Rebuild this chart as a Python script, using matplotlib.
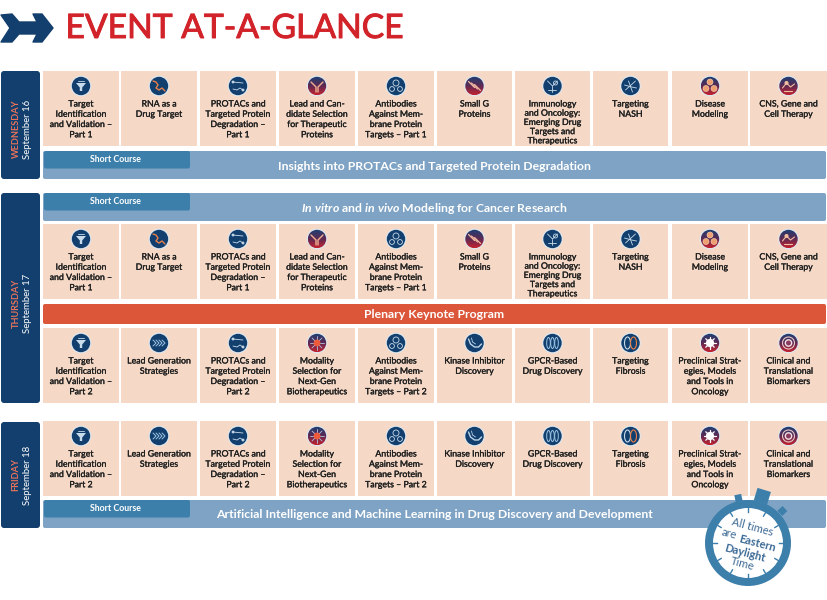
import matplotlib
matplotlib.use("Agg")
import matplotlib.pyplot as plt
import matplotlib.patheffects as pe
import numpy as np
from matplotlib.colors import LinearSegmentedColormap
from matplotlib.patches import Circle, Ellipse, FancyBboxPatch, Polygon, Rectangle

plt.rcParams["font.family"] = ["Lato", "DejaVu Sans"]
plt.rcParams["mathtext.fontset"] = "custom"
plt.rcParams["mathtext.it"] = "Lato:italic:bold"
plt.rcParams["mathtext.rm"] = "Lato:bold"

NAVY = "#123f6d"
CELL = "#f5d9c6"
BAND = "#7fa3c4"
TAB = "#3d7fab"
PLENARY = "#dc573a"
RED = "#d2232a"
SALMON = "#e8735a"
INK = "#1f1f1f"
GLYPH = "#c9dcec"
ORANGE = "#e8804a"

col_left = [43, 121, 200, 279, 358, 437, 515, 593, 672, 750]
col_right = [119, 197, 276, 355, 434, 512, 590, 668, 748, 827]

day_names = ["WEDNESDAY", "THURSDAY", "FRIDAY"]
day_dates = ["September 16", "September 17", "September 18"]
day_spans = [(71, 179), (193, 403), (422, 528)]
day_text_mid = [129, 303, 475]

row_tops = [71, 224, 328, 421]
row_height = 75

row_a = ["Target\nIdentification\nand Validation –\nPart 1", "RNA as a\nDrug Target",
         "PROTACs and\nTargeted Protein\nDegradation –\nPart 1",
         "Lead and Can-\ndidate Selection\nfor Therapeutic\nProteins",
         "Antibodies\nAgainst Mem-\nbrane Protein\nTargets – Part 1",
         "Small G\nProteins",
         "Immunology\nand Oncology:\nEmerging Drug\nTargets and\nTherapeutics",
         "Targeting\nNASH", "Disease\nModeling", "CNS, Gene and\nCell Therapy"]
row_b = ["Target\nIdentification\nand Validation –\nPart 2", "Lead Generation\nStrategies",
         "PROTACs and\nTargeted Protein\nDegradation –\nPart 2",
         "Modality\nSelection for\nNext-Gen\nBiotherapeutics",
         "Antibodies\nAgainst Mem-\nbrane Protein\nTargets – Part 2",
         "Kinase Inhibitor\nDiscovery", "GPCR-Based\nDrug Discovery", "Targeting\nFibrosis",
         "Preclinical Strat-\negies, Models\nand Tools in\nOncology",
         "Clinical and\nTranslational\nBiomarkers"]
rows = [row_a, row_a, row_b, row_b]

icons_a = ["funnel", "wave", "links", "antibody", "cells", "gprotein", "immuno", "nash", "disease", "cns"]
icons_b = ["funnel", "lead", "links", "modality", "cells", "kinase", "gpcr", "fibrosis", "gear", "rings"]
row_icons = [icons_a, icons_a, icons_b, icons_b]
red_icons = {"antibody", "gprotein", "disease", "cns", "modality", "gear", "rings"}

band_labels = ["Insights into PROTACs and Targeted Protein Degradation",
               r"$\mathit{In\ vitro}$ and $\mathit{in\ vivo}$ Modeling for Cancer Research",
               "Artificial Intelligence and Machine Learning in Drug Discovery and Development"]
band_spans = [(151, 179), (193, 221), (500, 528)]
tab_label = "Short Course"

fig = plt.figure(figsize=(8.28, 6.0), dpi=100)
ax = fig.add_axes([0, 0, 1, 1])
ax.axis("off")
red_ramp = LinearSegmentedColormap.from_list("ramp", ["#1d3f72", "#5a2a55", "#c2232f"])


def rounded(x0, y0, x1, y1, color, r=2.5, z=2):
    ax.add_patch(FancyBboxPatch((x0 + r, y0 + r), x1 - x0 - 2 * r, y1 - y0 - 2 * r,
                                boxstyle=f"round,pad={r},rounding_size={r}",
                                fc=color, ec="none", zorder=z))


def stroke(cx, cy, pts, color=GLYPH, lw=0.6):
    ax.plot([cx + p[0] for p in pts], [cy + p[1] for p in pts], color=color, lw=lw, zorder=6,
            solid_capstyle="round")


def ring(cx, cy, r, color=GLYPH, lw=0.6, fill="none"):
    ax.add_patch(Circle((cx, cy), r, fc=fill, ec=color, lw=lw, zorder=6))


def draw_icon(kind, cx, cy):
    ax.add_patch(Circle((cx, cy), 10.3, fc="#dde7f0", ec="none", zorder=3))
    if kind in red_icons:
        im = ax.imshow(np.linspace(0, 1, 24).reshape(-1, 1), cmap=red_ramp, aspect="auto",
                       extent=(cx - 9.2, cx + 9.2, cy + 9.2, cy - 9.2), zorder=4)
        im.set_clip_path(Circle((cx, cy), 9.2, transform=ax.transData))
    else:
        ax.add_patch(Circle((cx, cy), 9.2, fc=NAVY, ec="none", zorder=4))

    if kind == "funnel":
        ax.add_patch(Polygon([(cx - 5, cy - 3), (cx + 5, cy - 3), (cx + 1.2, cy + 1.5), (cx + 1.2, cy + 5),
                              (cx - 1.2, cy + 5), (cx - 1.2, cy + 1.5)], fc=GLYPH, ec="none", zorder=6))
        stroke(cx, cy, [(-3, -5.5), (3, -5.5)])
    elif kind == "wave":
        stroke(cx, cy, [(-6, -5), (-3, -4), (-1, -1), (-3, 2), (0, 4), (3, 2), (6, 5)], ORANGE, 1.0)
    elif kind == "links":
        stroke(cx, cy, [(-5, -4), (5, -3)])
        stroke(cx, cy, [(-5, 3), (-1, 4), (2, 2), (5, 4)])
        ring(cx - 5, cy - 4, 1, fill=GLYPH)
        ring(cx + 5, cy + 4, 1, fill=GLYPH)
    elif kind == "antibody":
        stroke(cx, cy, [(-6, -4), (-1, 1), (-1, 6)], "#f0b090", 1.0)
        stroke(cx, cy, [(6, -4), (1, 1), (1, 6)], "#f0b090", 1.0)
    elif kind == "cells":
        ring(cx, cy - 3, 3)
        ring(cx - 4, cy + 3, 2.4)
        ring(cx + 4, cy + 3, 2.4)
    elif kind == "gprotein":
        for d in (-3, 0, 3):
            stroke(cx + d, cy + d / 2, [(-3, -3), (3, 3)], "#f2b8a0", 0.9)
    elif kind == "immuno":
        stroke(cx, cy, [(-5, -5), (0, 0), (5, -5)])
        stroke(cx, cy, [(0, 0), (0, 6)])
        stroke(cx, cy, [(-4, 4), (4, 4)])
        ring(cx + 3, cy - 3, 2)
    elif kind == "nash":
        stroke(cx, cy, [(-5, 4), (5, -5)])
        stroke(cx, cy, [(-2, -5), (2, 6)])
        stroke(cx, cy, [(-6, -1), (1, 1), (6, 2)])
    elif kind == "disease":
        for dx, dy in [(0, -4), (-4, 2.5), (4, 2.5)]:
            ax.add_patch(Circle((cx + dx, cy + dy), 3, fc="#f0a070", ec="#f8d8b8", lw=0.4, zorder=6))
    elif kind == "cns":
        stroke(cx, cy, [(-6, 2), (-2, -3), (2, 1), (6, -2)], "#f2c0a0", 0.8)
        ring(cx - 2, cy - 3, 1.6, "#f2c0a0", fill="#f2c0a0")
        stroke(cx, cy, [(-4, 5), (4, 5)], "#f2c0a0", 0.8)
    elif kind == "lead":
        for d in (-5, -2, 1, 4):
            stroke(cx + d, cy, [(-1, -3), (2, 0), (-1, 3)], "#9cc4e4", 0.7)
    elif kind == "modality":
        for ang in np.arange(0, 360, 45):
            a = np.deg2rad(ang)
            stroke(cx, cy, [(0, 0), (7 * np.cos(a), 7 * np.sin(a))], "#b0c4e0", 0.6)
        ring(cx, cy, 3, "#ef5a3a", fill="#ef5a3a")
    elif kind == "kinase":
        stroke(cx, cy, [(-6, -4), (-4, 1), (0, 4), (4, 4), (7, 1)], "#bcd4ea", 1.0)
        stroke(cx, cy, [(-3, -5), (-2, -1), (1, 1)], "#bcd4ea", 0.6)
    elif kind == "gpcr":
        for d in (-4, 0, 4):
            ax.add_patch(Ellipse((cx + d, cy), 3.6, 11, fc="none", ec="#9cc4e4", lw=0.7, zorder=6))
    elif kind == "fibrosis":
        ax.add_patch(Ellipse((cx - 3, cy), 6, 12, fc="none", ec=GLYPH, lw=0.8, zorder=6))
        ax.add_patch(Ellipse((cx + 3, cy), 6, 12, fc="none", ec=ORANGE, lw=0.8, zorder=6))
    elif kind == "gear":
        ring(cx, cy, 3.4, "white", 1.0, fill="white")
        for ang in np.arange(0, 360, 45):
            a = np.deg2rad(ang)
            stroke(cx, cy, [(3 * np.cos(a), 3 * np.sin(a)), (6 * np.cos(a), 6 * np.sin(a))], "white", 0.9)
    elif kind == "rings":
        ring(cx, cy, 6, "#e8c8c8", 0.8)
        ring(cx, cy, 3.2, "#f0e0e0", 1.0, fill="#8a3a60")


# title with arrow mark
ax.add_patch(Polygon([(1, 15), (12, 14), (19, 22), (37, 22), (33, 14), (42, 14), (53, 28),
                      (42, 42), (33, 42), (37, 34), (19, 34), (12, 42), (1, 42), (10, 28)],
                     fc=NAVY, ec=NAVY, lw=1, joinstyle="round"))
ax.text(65.5, 28, "EVENT AT-A-GLANCE", color=RED, fontsize=24.2, ha="left", va="center",
        path_effects=[pe.withStroke(linewidth=0.7, foreground=RED)])

# day panels
for name, date, (y0, y1), ym in zip(day_names, day_dates, day_spans, day_text_mid):
    rounded(1, y0, 40, y1, NAVY, r=3)
    ax.text(16, ym, name, color=SALMON, fontsize=6.6, fontweight="bold", rotation=90,
            ha="center", va="center")
    ax.text(28, ym, date, color="white", fontsize=6.9, rotation=90, ha="center", va="center")

# session cells
for top, labels, icons in zip(row_tops, rows, row_icons):
    for i, label in enumerate(labels):
        ax.add_patch(Rectangle((col_left[i], top), col_right[i] - col_left[i], row_height,
                               fc=CELL, ec="none", zorder=2))
        cx = (col_left[i] + col_right[i]) / 2
        draw_icon(icons[i], cx, top + 15)
        spacing = 1.03 if label.count("\n") == 4 else 1.18
        ax.text(cx, top + 28.5, label, color=INK, fontsize=6.3, ha="center", va="top",
                linespacing=spacing, zorder=5,
                path_effects=[pe.withStroke(linewidth=0.2, foreground=INK)])

# course bands
for label, (y0, y1) in zip(band_labels, band_spans):
    rounded(43, y0, 826, y1, BAND, r=2, z=2)
    ax.text(434, y0 + 15, label, color="white", fontsize=8.8, fontweight="bold",
            ha="center", va="center", zorder=4)
    rounded(44, y0, 190, y0 + 17.5, TAB, r=2, z=3)
    ax.text(115, y0 + 8.5, tab_label, color="white", fontsize=6.3, fontweight="bold",
            ha="center", va="center", zorder=4)

# plenary band
rounded(43, 304, 826, 324, PLENARY, r=2)
ax.text(434, 314, "Plenary Keynote Program", color="white", fontsize=8.8, fontweight="bold",
        ha="center", va="center", zorder=4)

# stopwatch note
cx, cy, r = 748, 543, 35
for ang, w, h, dist in [(17, 14, 13, 49), (-12, 7, 7, 46), (47, 7, 7, 47)]:
    a = np.deg2rad(ang)
    px, py = cx + dist * np.sin(a), cy - dist * np.cos(a)
    ax.add_patch(Rectangle((px - w / 2, py - h / 2), w, h, angle=ang, rotation_point="center",
                           fc=TAB, ec="none", zorder=6))
ax.add_patch(Circle((cx, cy), r + 8, fc=TAB, ec="none", zorder=7))
ax.add_patch(Circle((cx, cy), r, fc="white", ec="none", zorder=8))
for ang in np.arange(0, 360, 30):
    a = np.deg2rad(ang)
    ax.plot([cx + (r + 0.5) * np.cos(a), cx + (r - 4) * np.cos(a)],
            [cy + (r + 0.5) * np.sin(a), cy + (r - 4) * np.sin(a)], color=TAB, lw=1, zorder=9)
note_parts = [("All times", 752, 527, "normal"), ("are", 729, 534, "normal"), ("Eastern", 757, 543, "bold"),
              ("Daylight", 745, 553, "bold"), ("Time", 742, 564, "normal")]
for word, x, y, weight in note_parts:
    ax.text(x, y, word, color="#3c6a95", fontsize=8, fontweight=weight, rotation=-15,
            rotation_mode="anchor", ha="center", va="center", zorder=10)

ax.set_xlim(0, 828)
ax.set_ylim(600, 0)
fig.savefig("out.png", dpi=100)
